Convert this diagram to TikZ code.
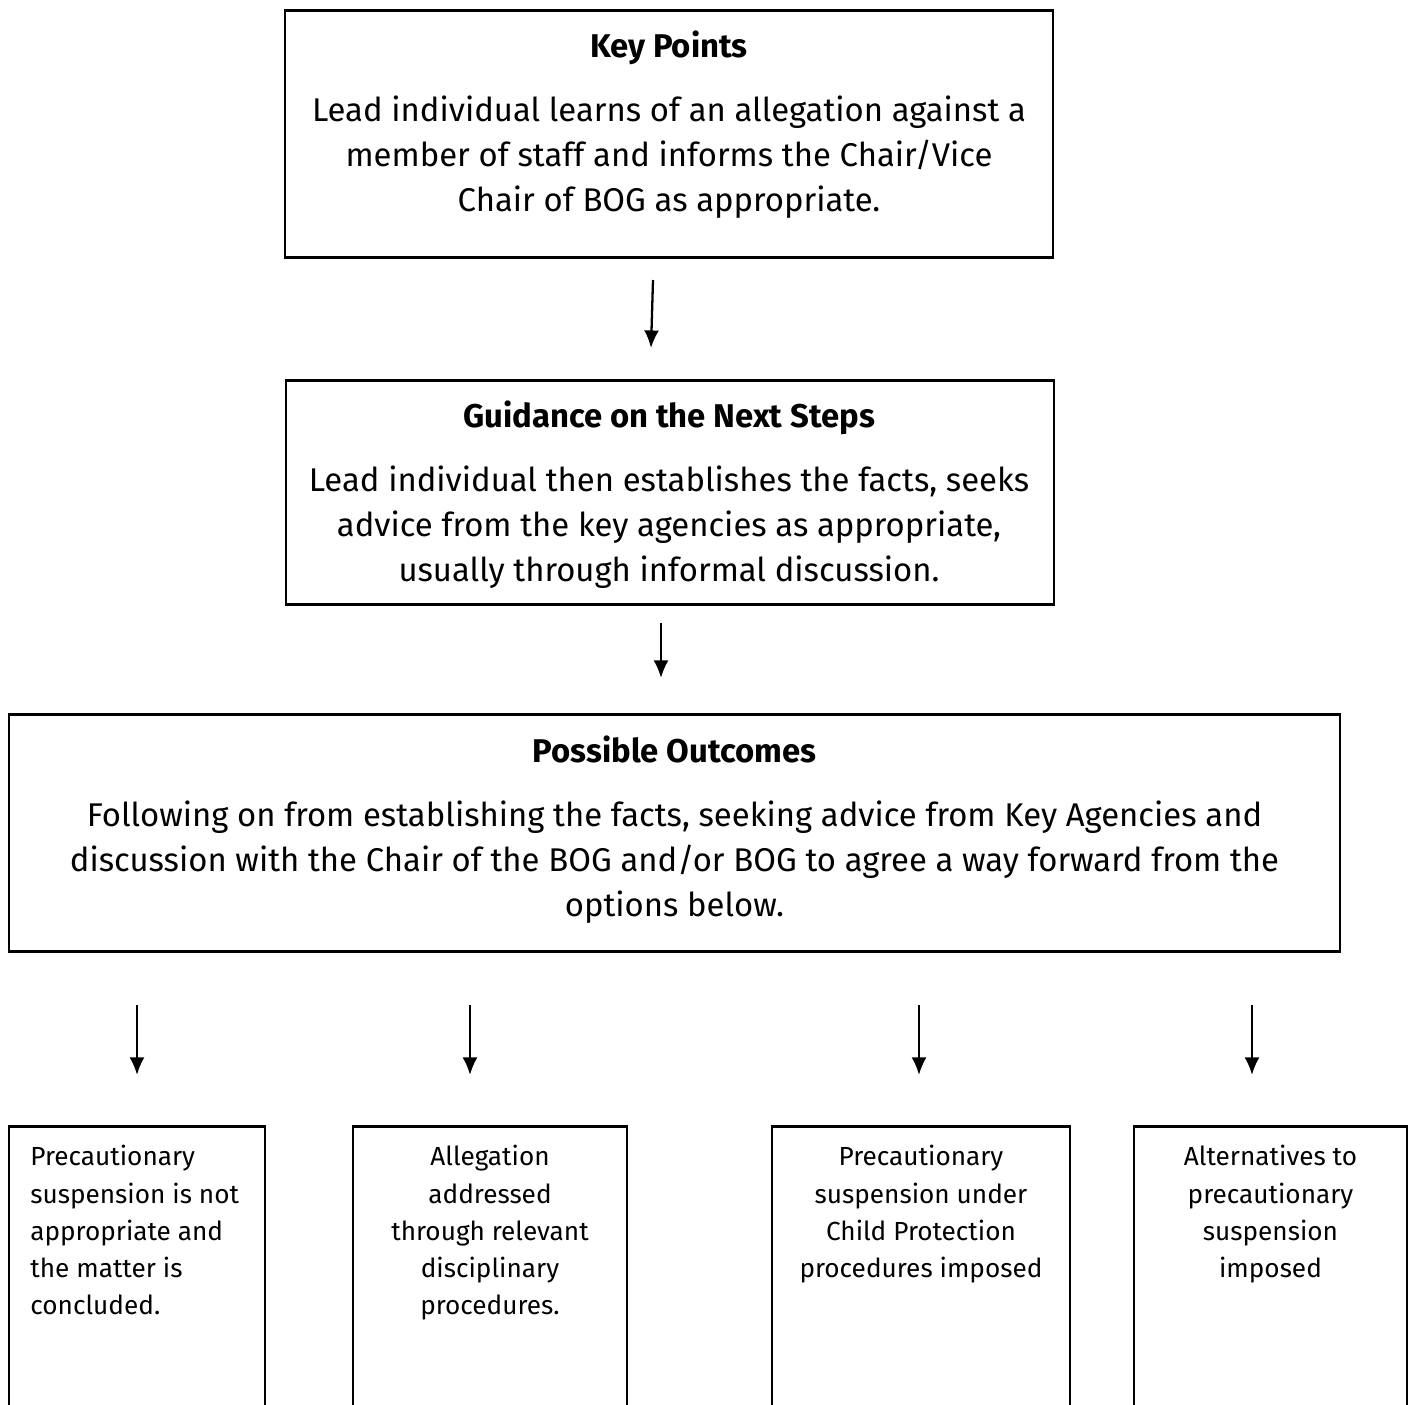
\documentclass[tikz,border=0pt]{standalone}
\usepackage{fontspec}
\setmainfont{Fira Sans}
\usetikzlibrary{arrows.meta,positioning}

\tikzset{
    box/.style={draw, line width=1.5pt, rectangle, inner sep=0pt},
    headtext/.style={inner sep=0pt, align=center, font=\fontsize{18.7}{25.6}\selectfont},
    outtext/.style={inner sep=0pt, font=\fontsize{14.9}{21.2}\selectfont},
    flow/.style={line width=1.3pt, -{Latex[length=10pt, width=8.5pt]}}
}

\begin{document}
\begin{tikzpicture}
    \useasboundingbox (0,0) rectangle (28.26,-28.08);
    \clip (0,0) rectangle (28.26,-28.08);

    % Key points
    \node[box, minimum width=15.36cm, minimum height=4.94cm, anchor=north] (keybox) at (13.38,-0.18) {};
    \node[headtext, anchor=north] (keytext) at (13.38,-0.6)
        {\textbf{Key Points}\\[11pt]
         Lead individual learns of an allegation against a\\
         member of staff and informs the Chair/Vice\\
         Chair of BOG as appropriate.};

    % Guidance
    \node[box, minimum width=15.36cm, minimum height=4.48cm, anchor=north] (guidebox) at (13.4,-7.58) {};
    \node[headtext, anchor=north] (guidetext) at (13.38,-8.0)
        {\textbf{Guidance on the Next Steps}\\[11pt]
         Lead individual then establishes the facts, seeks\\
         advice from the key agencies as appropriate,\\
         usually through informal discussion.};

    % Possible outcomes
    \node[box, minimum width=26.62cm, minimum height=4.74cm, anchor=north] (outbox) at (13.49,-14.26) {};
    \node[headtext, anchor=north] (outtitle) at (13.49,-14.7)
        {\textbf{Possible Outcomes}\\[11pt]
         Following on from establishing the facts, seeking advice from Key Agencies and\\
         discussion with the Chair of the BOG and/or BOG to agree a way forward from the\\
         options below.};

    % Options (boxes run off the page)
    \node[box, minimum width=5.12cm, minimum height=6.4cm, anchor=north] (optA) at (2.74,-22.5) {};
    \node[box, minimum width=5.48cm, minimum height=6.4cm, anchor=north] (optB) at (9.8,-22.5) {};
    \node[box, minimum width=5.96cm, minimum height=6.4cm, anchor=north] (optC) at (18.42,-22.5) {};
    \node[box, minimum width=5.46cm, minimum height=6.4cm, anchor=north] (optD) at (25.41,-22.5) {};

    \node[outtext, align=left, anchor=north west] (optAtext) at (0.6,-22.9)
        {Precautionary\\suspension is not\\appropriate and\\the matter is\\concluded.};
    \node[outtext, align=center, anchor=north] (optBtext) at (9.8,-22.9)
        {Allegation\\addressed\\through relevant\\disciplinary\\procedures.};
    \node[outtext, align=center, anchor=north] (optCtext) at (18.42,-22.9)
        {Precautionary\\suspension under\\Child Protection\\procedures imposed};
    \node[outtext, align=center, anchor=north] (optDtext) at (25.41,-22.9)
        {Alternatives to\\precautionary\\suspension\\imposed};

    % Arrows
    \coordinate (a1s) at (13.06,-5.6);
    \coordinate (a1e) at (13.02,-6.96);
    \draw[flow] (a1s) -- (a1e);
    \coordinate (a2s) at (13.22,-12.46);
    \coordinate (a2e) at (13.22,-13.56);
    \draw[flow] (a2s) -- (a2e);
    \foreach \x/\n in {2.74/A, 9.4/B, 18.38/C, 25.04/D}{
        \coordinate (s\n) at (\x,-20.1);
        \coordinate (e\n) at (\x,-21.5);
        \draw[flow] (s\n) -- (e\n);
    }
\end{tikzpicture}
\end{document}
